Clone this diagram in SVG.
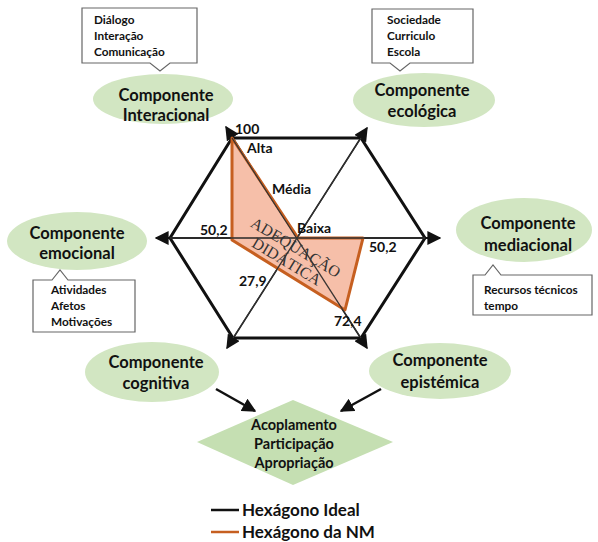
<svg xmlns="http://www.w3.org/2000/svg" width="598" height="542" viewBox="0 0 598 542">
<style>
.ell{fill:#d2e6c2;stroke:none}
.et{font-family:Lato,"Liberation Sans",sans-serif;font-weight:bold;font-size:16.5px;fill:#111;text-anchor:middle}
.dt{font-family:Lato,"Liberation Sans",sans-serif;font-weight:bold;font-size:14.5px;fill:#111;text-anchor:middle}
.call{fill:#fff;stroke:#666;stroke-width:1.2}
.ct{font-family:Lato,"Liberation Sans",sans-serif;font-weight:bold;font-size:11.8px;fill:#111}
.lab{font-family:Lato,"Liberation Sans",sans-serif;font-weight:bold;font-size:14px;fill:#111}
.ax{stroke:#111;fill:none}
.lg{font-family:Lato,"Liberation Sans",sans-serif;font-weight:bold;font-size:17px;fill:#111}
.adq{font-family:"Liberation Serif",serif;font-size:16px;fill:#333;text-anchor:middle}
</style>
<defs>
<marker id="ah2" viewBox="0 0 10 10" refX="9" refY="5" markerWidth="14" markerHeight="14" markerUnits="userSpaceOnUse" orient="auto-start-reverse">
<path d="M0,0 L10,5 L0,10 Z" fill="#111"/>
</marker>
</defs>

<g id="hexagon">
<polygon points="232,138 361,138 425,238 361,338 233,338 170,238" fill="none" stroke="#111" stroke-width="3"/>
</g>

<g id="connectors">
<line class="ax" x1="156" y1="238" x2="440" y2="238" stroke-width="2" marker-start="url(#ah2)" marker-end="url(#ah2)"/>
<line class="ax" x1="226" y1="127" x2="367" y2="348" stroke-width="1.5" marker-start="url(#ah2)" marker-end="url(#ah2)"/>
<line class="ax" x1="367" y1="128" x2="227" y2="348" stroke-width="1.5" marker-start="url(#ah2)" marker-end="url(#ah2)"/>
<line x1="216" y1="389" x2="255" y2="411" stroke="#111" stroke-width="2.5" marker-end="url(#ah2)"/>
<line x1="381" y1="389" x2="341" y2="411" stroke="#111" stroke-width="2.5" marker-end="url(#ah2)"/>
</g>

<g id="nm-polygon">
<polygon points="232,138 298,238 363,238 345,310 232,240" fill="#f5b49a" fill-opacity="0.85" stroke="#c65f20" stroke-width="3" stroke-linejoin="round"/>
<line x1="170" y1="238" x2="425" y2="238" stroke="#333" stroke-width="1.5"/>
<line x1="232" y1="138" x2="361" y2="338" stroke="#333" stroke-width="1.2"/>
<line x1="361" y1="138" x2="233" y2="338" stroke="#333" stroke-width="1.2"/>
<text class="adq" transform="translate(293,252) rotate(31)">ADEQUAÇÃO</text>
<text class="adq" transform="translate(284,266) rotate(31)">DIDÁTICA</text>
</g>

<g id="labels">
<text class="lab" x="235" y="134">100</text>
<text class="lab" x="247" y="153">Alta</text>
<text class="lab" x="272" y="194">Média</text>
<text class="lab" x="297" y="233">Baixa</text>
<text class="lab" x="200" y="235">50,2</text>
<text class="lab" x="369" y="252">50,2</text>
<text class="lab" x="239" y="286">27,9</text>
<text class="lab" x="334" y="326">72,4</text>
</g>

<g id="interacional">
<path class="call" d="M82,8 H197 V63 H170 L160,71 L150,63 H82 Z"/>
<text class="ct" x="94" y="24">Diálogo</text>
<text class="ct" x="94" y="40">Interação</text>
<text class="ct" x="94" y="56">Comunicação</text>
<ellipse class="ell" cx="163" cy="99" rx="70" ry="25"/>
<text class="et" x="166" y="101">Componente</text>
<text class="et" x="166" y="121">Interacional</text>
</g>

<g id="ecologica">
<path class="call" d="M372,9 H473 V63 H410 L400,71 L390,63 H372 Z"/>
<text class="ct" x="387" y="24">Sociedade</text>
<text class="ct" x="387" y="40">Curriculo</text>
<text class="ct" x="387" y="56">Escola</text>
<ellipse class="ell" cx="424" cy="100" rx="71" ry="27"/>
<text class="et" x="422" y="96">Componente</text>
<text class="et" x="422" y="117">ecológica</text>
</g>

<g id="emocional">
<ellipse class="ell" cx="77" cy="241" rx="70" ry="29"/>
<text class="et" x="77" y="239">Componente</text>
<text class="et" x="77" y="259">emocional</text>
<path class="call" d="M33,280 H52 L60,270 L68,280 H135 V332 H33 Z"/>
<text class="ct" x="51" y="294">Atividades</text>
<text class="ct" x="51" y="310">Afetos</text>
<text class="ct" x="51" y="326">Motivações</text>
</g>

<g id="mediacional">
<ellipse class="ell" cx="524" cy="230" rx="68" ry="32"/>
<text class="et" x="528" y="229">Componente</text>
<text class="et" x="528" y="251">mediacional</text>
<path class="call" d="M473,275 H485 L493,265 L501,275 H592 V315 H473 Z"/>
<text class="ct" x="484" y="294">Recursos técnicos</text>
<text class="ct" x="484" y="310">tempo</text>
</g>

<g id="cognitiva">
<ellipse class="ell" cx="152" cy="372" rx="67" ry="30"/>
<text class="et" x="156" y="368">Componente</text>
<text class="et" x="156" y="389">cognitiva</text>
</g>

<g id="epistemica">
<ellipse class="ell" cx="440" cy="371" rx="71" ry="28"/>
<text class="et" x="440" y="366">Componente</text>
<text class="et" x="440" y="388">epistémica</text>
</g>

<g id="diamond">
<polygon points="293,400 393,442 293,485 197,442" fill="#c5dfb2"/>
<text class="dt" x="294" y="430">Acoplamento</text>
<text class="dt" x="294" y="449">Participação</text>
<text class="dt" x="294" y="468">Apropriação</text>
</g>

<g id="legend">
<line x1="211" y1="510" x2="239" y2="510" stroke="#111" stroke-width="2.5"/>
<text class="lg" x="242" y="516">Hexágono Ideal</text>
<line x1="211" y1="532" x2="239" y2="532" stroke="#c65f20" stroke-width="2.5"/>
<text class="lg" x="242" y="538">Hexágono da NM</text>
</g>
</svg>
